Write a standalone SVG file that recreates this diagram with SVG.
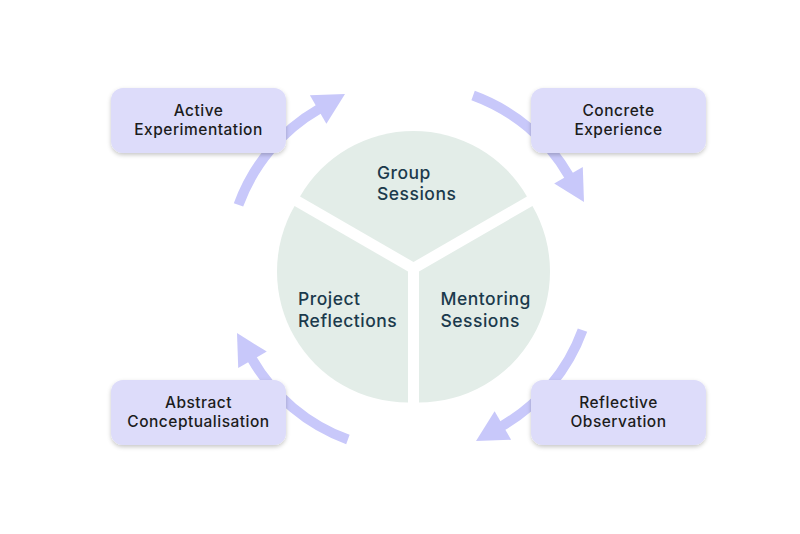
<svg xmlns="http://www.w3.org/2000/svg" width="800" height="534" viewBox="0 0 800 534">
  <style>
    .box { fill: #dddcfa; }
    .boxtext { font-family: Inter, "Open Sans", sans-serif; font-size: 15.5px; font-weight: 500; letter-spacing: 0.5px; fill: #1c1c1c; text-anchor: middle; }
    .slice { fill: #e3ede8; }
    .slicetext { font-family: Inter, "Open Sans", sans-serif; font-size: 17.5px; font-weight: 500; letter-spacing: 0.5px; fill: #1b3a4c; }
    .arc { fill: none; stroke: #c8c8fa; stroke-width: 10; }
  </style>
  <defs>
    <filter id="shadow" x="-20%" y="-30%" width="140%" height="160%">
      <feDropShadow dx="0" dy="2" stdDeviation="2" flood-color="#000000" flood-opacity="0.22"/>
    </filter>
    <marker id="head" markerUnits="userSpaceOnUse" markerWidth="34" markerHeight="36" viewBox="0 -18 32 36" refX="1" refY="0" orient="auto">
      <path d="M0,-16.5 L31,0 L0,16.5 Z" fill="#c8c8fa"/>
    </marker>
  </defs>
  <rect width="800" height="534" fill="#ffffff"/>

  <g id="connectors">
    <path class="arc" d="M238.5,204.9 A183,183 0 0 1 319,109" marker-end="url(#head)"/>
    <path class="arc" d="M473.1,95.5 A183,183 0 0 1 569,176" marker-end="url(#head)"/>
    <path class="arc" d="M582.5,330.1 A183,183 0 0 1 502,426" marker-end="url(#head)"/>
    <path class="arc" d="M347.9,439.5 A183,183 0 0 1 252,359" marker-end="url(#head)"/>
  </g>

  <g id="pie">
    <g id="group-sessions">
      <path class="slice" d="M413.5,262 L300.05,196.5 A131,131 0 0 1 526.95,196.5 Z"/>
      <text class="slicetext" x="377" y="178.5">Group</text>
      <text class="slicetext" x="377" y="200">Sessions</text>
    </g>
    <g id="project-reflections">
      <path class="slice" d="M408,271.5 L408,402.5 A131,131 0 0 1 294.55,206 Z"/>
      <text class="slicetext" x="298" y="305">Project</text>
      <text class="slicetext" x="298" y="326.5">Reflections</text>
    </g>
    <g id="mentoring-sessions">
      <path class="slice" d="M419,271.5 L532.45,206 A131,131 0 0 1 419,402.5 Z"/>
      <text class="slicetext" x="440.5" y="305">Mentoring</text>
      <text class="slicetext" x="440.5" y="326.5">Sessions</text>
    </g>
  </g>

  <g id="active-experimentation">
    <rect class="box" x="111" y="88" width="175" height="65" rx="12" filter="url(#shadow)"/>
    <text class="boxtext" x="198.5" y="116">Active</text>
    <text class="boxtext" x="198.5" y="134.5">Experimentation</text>
  </g>
  <g id="concrete-experience">
    <rect class="box" x="531" y="88" width="175" height="65" rx="12" filter="url(#shadow)"/>
    <text class="boxtext" x="618.5" y="116">Concrete</text>
    <text class="boxtext" x="618.5" y="134.5">Experience</text>
  </g>
  <g id="reflective-observation">
    <rect class="box" x="531" y="380" width="175" height="65" rx="12" filter="url(#shadow)"/>
    <text class="boxtext" x="618.5" y="408">Reflective</text>
    <text class="boxtext" x="618.5" y="426.5">Observation</text>
  </g>
  <g id="abstract-conceptualisation">
    <rect class="box" x="111" y="380" width="175" height="65" rx="12" filter="url(#shadow)"/>
    <text class="boxtext" x="198.5" y="408">Abstract</text>
    <text class="boxtext" x="198.5" y="426.5">Conceptualisation</text>
  </g>
</svg>
